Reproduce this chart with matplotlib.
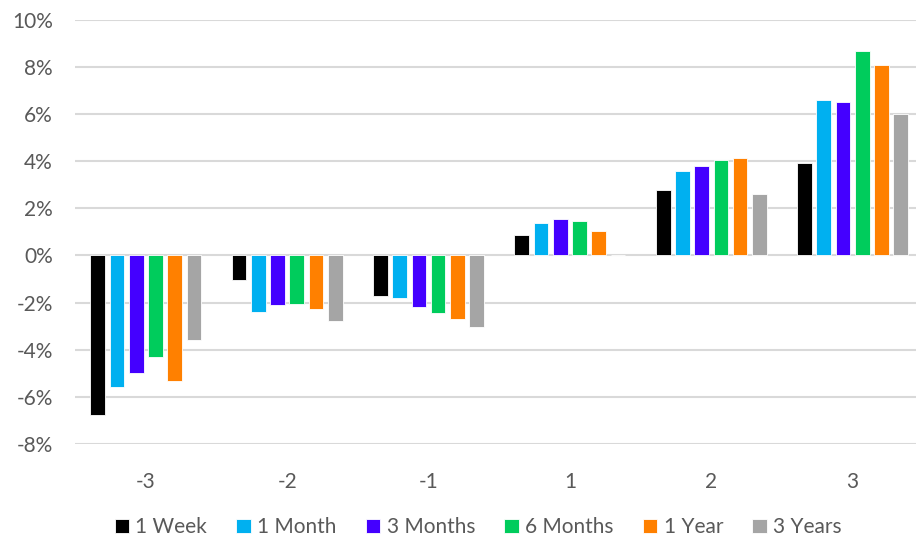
import numpy as np
import matplotlib
matplotlib.use("Agg")
import matplotlib.pyplot as plt

plt.rcParams['font.family'] = ['Lato', 'DejaVu Sans']

# Average return by signal bucket, per holding horizon (%)
buckets = ["-3", "-2", "-1", "1", "2", "3"]
horizons = ["1 Week", "1 Month", "3 Months", "6 Months", "1 Year", "3 Years"]
week_1 = [-6.77, -1.06, -1.70, 0.88, 2.78, 3.91]
month_1 = [-5.58, -2.39, -1.81, 1.39, 3.60, 6.61]
months_3 = [-4.97, -2.12, -2.18, 1.56, 3.80, 6.52]
months_6 = [-4.30, -2.04, -2.43, 1.46, 4.05, 8.70]
year_1 = [-5.35, -2.28, -2.69, 1.02, 4.15, 8.10]
years_3 = [-3.60, -2.77, -3.04, 0.00, 2.59, 6.02]
series = [week_1, month_1, months_3, months_6, year_1, years_3]
colors = ["#000000", "#00B0F0", "#4400FF", "#00CC5C", "#FF8000", "#A5A5A5"]

fig = plt.figure(figsize=(9.16, 5.40), dpi=100)
# plot area runs slightly past the right edge of the canvas
ax = fig.add_axes([0.082, 0.178, 0.926, 0.785])

x = np.arange(len(buckets))
slot = 0.136
width = 0.104
for i, (vals, name, col) in enumerate(zip(series, horizons, colors)):
    offs = (i - (len(series) - 1) / 2) * slot
    ax.bar(x + offs, vals, width=width, color=col, label=name, zorder=3,
           edgecolor="white", linewidth=0.6)

ax.set_xlim(-0.5, len(buckets) - 0.5)
ax.set_ylim(-8, 10)
ax.set_yticks(np.arange(-8, 11, 2))
ax.set_yticklabels([f"{v}%" for v in range(-8, 11, 2)])
ax.set_xticks(x)
ax.set_xticklabels(buckets)
ax.yaxis.grid(True, color="#D9D9D9", linewidth=1.5, zorder=0)
ax.tick_params(axis="both", length=0, labelsize=15, colors="#595959")
ax.tick_params(axis="x", pad=20)
ax.tick_params(axis="y", pad=16)
for s in ax.spines.values():
    s.set_visible(False)

fig.legend(loc="lower center", ncol=6, frameon=False, fontsize=15,
           bbox_to_anchor=(0.522, -0.03), handlelength=0.7, handleheight=0.7,
           handletextpad=0.3, columnspacing=1.4, labelcolor="#595959")

fig.savefig("out.png", dpi=100)
